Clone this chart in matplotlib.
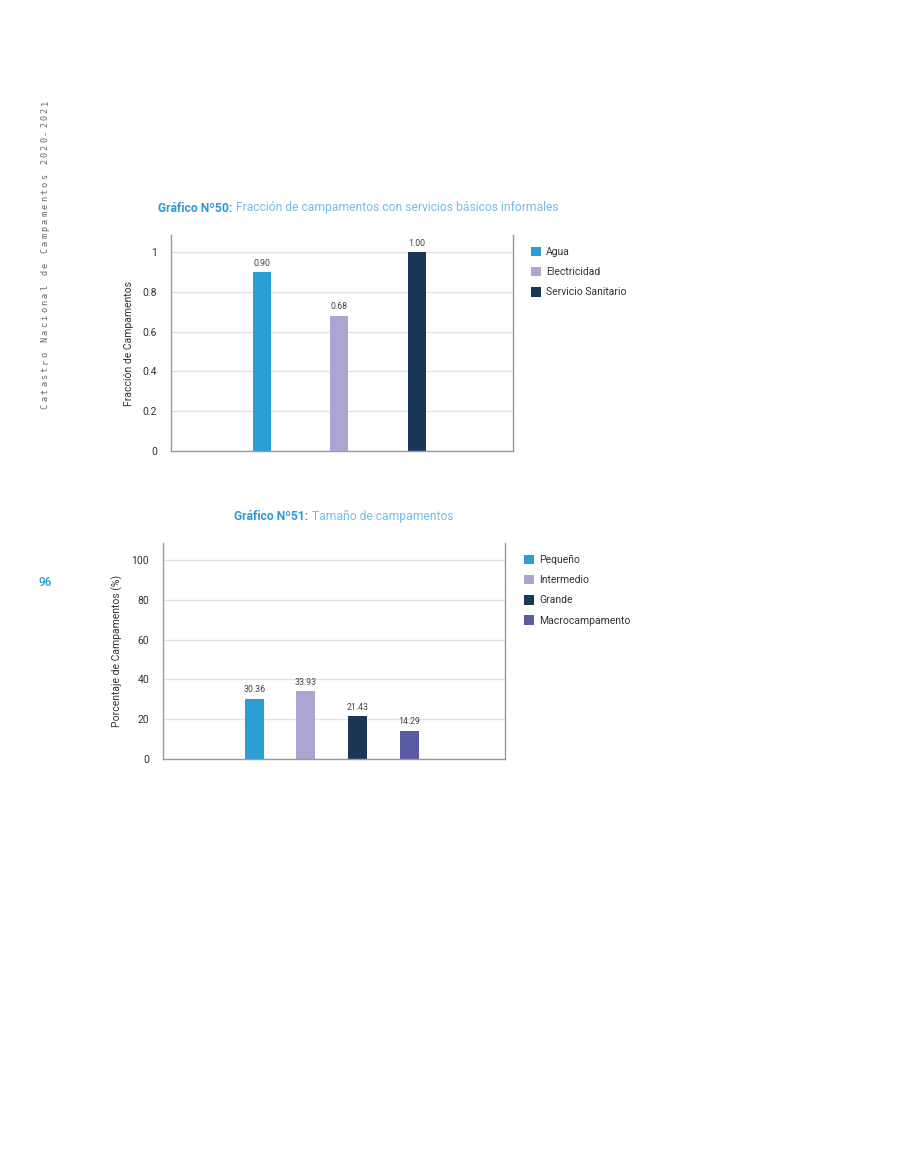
import matplotlib
matplotlib.use("Agg")
import matplotlib.pyplot as plt
from matplotlib.patches import Patch

plt.rcParams['font.family'] = ['Roboto', 'DejaVu Sans']

# ---- data ----
cats1 = ["Agua", "Electricidad", "Servicio Sanitario"]
vals1 = [0.90, 0.68, 1.00]
colors1 = ["#2B9ED6", "#ADA5D1", "#1B3656"]
yticks1 = [0, 0.2, 0.4, 0.6, 0.8, 1]
yticklabels1 = ["0", "0.2", "0.4", "0.6", "0.8", "1"]

cats2 = ["Pequeño", "Intermedio", "Grande", "Macrocampamento"]
vals2 = [30.36, 33.93, 21.43, 14.29]
colors2 = ["#2B9ED6", "#ADA5D1", "#1B3656", "#5A5BA3"]
yticks2 = [0, 20, 40, 60, 80, 100]

sidebar_text = "Catastro Nacional de Campamentos 2020-2021"
page_number = "96"

W, H = 900, 1165
fig = plt.figure(figsize=(W / 100, H / 100), dpi=100)

SPINE = "#9A9A9A"
GRID = "#E3E3E3"
TXT = "#333333"
BLUE_B = "#2E9AD3"
BLUE_L = "#79BCE3"

def fx(px):
    return px / W

def fy(py):
    return 1 - py / H

def style(ax):
    ax.spines['top'].set_visible(False)
    for s in ['left', 'right', 'bottom']:
        ax.spines[s].set_color(SPINE)
        ax.spines[s].set_linewidth(1.0)
    ax.tick_params(axis='y', length=0, labelsize=7.5, labelcolor=TXT, pad=10)
    ax.tick_params(axis='x', length=0, labelbottom=False)
    ax.grid(axis='y', color=GRID, linewidth=1.0)
    ax.set_axisbelow(True)

def legend(handles, labels, x, y):
    fig.legend(handles, labels, loc='upper left', bbox_to_anchor=(fx(x), fy(y)),
               frameon=False, fontsize=7.5, handlelength=1.0, handleheight=1.0,
               handletextpad=0.45, labelspacing=0.95, borderaxespad=0, borderpad=0,
               labelcolor=TXT)

# ---- Chart 1 ----
ax1 = fig.add_axes([fx(171), fy(451), fx(342), 216 / H])
x1 = list(range(len(cats1)))
bars1 = ax1.bar(x1, vals1, width=0.23, color=colors1)
ax1.set_xlim(-1.17, 3.24)
ax1.set_ylim(0, 1.085)
ax1.set_yticks(yticks1)
ax1.set_yticklabels(yticklabels1)
style(ax1)
ax1.bar_label(bars1, labels=[f"{v:.2f}" for v in vals1], padding=3, fontsize=6.3, color="#444444")
ax1.set_ylabel("Fracción de Campamentos", fontsize=7.5, color=TXT, labelpad=6)
h1 = [Patch(facecolor=c, edgecolor='none') for c in colors1]
legend(h1, cats1, 531, 247)

# Title 1
TFS = 8.7
t = fig.text(fx(158), fy(208), "Gráfico Nº50:", fontsize=TFS, fontweight='bold',
             color=BLUE_B, va='center', ha='left')
fig.canvas.draw()
bb = t.get_window_extent()
fig.text(bb.x1 / W + 0.004, fy(208), "Fracción de campamentos con servicios básicos informales",
         fontsize=TFS, color=BLUE_L, va='center', ha='left')

# ---- Chart 2 ----
ax2 = fig.add_axes([fx(163), fy(759), fx(342), 216 / H])
x2 = list(range(len(cats2)))
bars2 = ax2.bar(x2, vals2, width=0.37, color=colors2)
ax2.set_xlim(-1.77, 4.86)
ax2.set_ylim(0, 108.5)
ax2.set_yticks(yticks2)
style(ax2)
ax2.bar_label(bars2, labels=[f"{v:.2f}" for v in vals2], padding=3, fontsize=6.3, color="#444444")
ax2.set_ylabel("Porcentaje de Campamentos (%)", fontsize=7.5, color=TXT, labelpad=6)
h2 = [Patch(facecolor=c, edgecolor='none') for c in colors2]
legend(h2, cats2, 524, 555)

t2 = fig.text(fx(234), fy(516), "Gráfico Nº51:", fontsize=TFS, fontweight='bold',
              color=BLUE_B, va='center', ha='left')
fig.canvas.draw()
bb2 = t2.get_window_extent()
fig.text(bb2.x1 / W + 0.004, fy(516), "Tamaño de campamentos",
         fontsize=TFS, color=BLUE_L, va='center', ha='left')

# ---- Sidebar (letter-spaced vertical text) ----
y0, step = 406, 7.4
for i, ch in enumerate(sidebar_text):
    if ch == " ":
        continue
    fig.text(fx(45), fy(y0 - i * step), ch, rotation=90, fontsize=6.2,
             family='DejaVu Sans Mono', color="#666666", va='center', ha='center')
fig.text(fx(45), fy(582), page_number, fontsize=8.5, fontweight='medium', color=BLUE_B,
         va='center', ha='center')

fig.savefig("out.png", dpi=100)
